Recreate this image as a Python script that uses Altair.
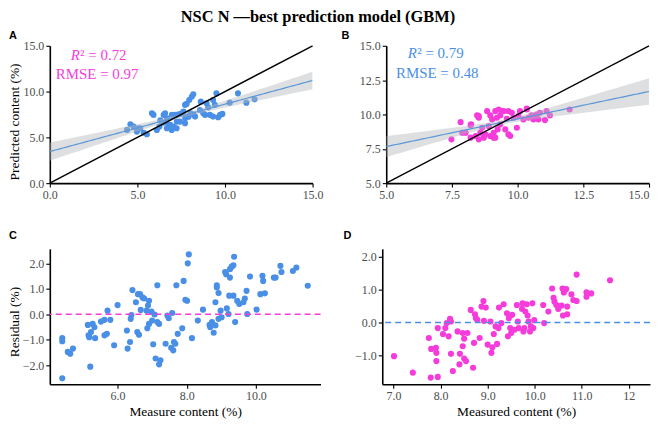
import altair as alt
import pandas as pd
import numpy as np

# ---------------- data ----------------
A_MEAS = [4.41,4.60,4.79,4.97,5.05,5.16,5.36,5.54,5.83,5.92,
          6.11,6.26,6.31,6.49,6.50,6.58,6.68,6.69,6.78,6.87,
          6.96,6.97,7.06,7.15,7.24,7.25,7.35,7.43,7.53,7.63,
          7.72,7.73,7.92,7.72,7.81,7.96,8.10,8.19,8.04,8.20,
          8.29,8.57,8.62,8.76,8.86,8.95,9.04,9.14,9.32,9.32,
          9.42,9.51,9.61,9.72,9.85,10.27,10.74,11.22,11.69]
A_PRED = [5.81,6.43,6.17,5.63,6.00,5.99,5.50,5.34,7.63,7.45,
          5.81,6.18,6.85,6.61,7.45,7.63,5.99,7.09,6.36,6.36,
          5.81,7.45,6.18,7.45,5.99,6.72,7.52,6.72,7.63,7.81,
          6.54,7.09,7.26,8.54,8.65,9.08,9.44,9.70,7.63,7.52,
          7.27,7.99,8.90,7.63,7.45,8.72,8.28,7.45,9.08,7.27,
          8.54,9.81,7.19,7.45,7.56,8.79,9.81,8.79,9.15]

B_MEAS = [7.48,7.83,7.89,8.02,8.23,8.21,8.40,8.46,8.52,8.52,
          8.58,8.65,8.71,8.77,8.84,8.90,8.96,9.03,9.09,9.09,
          9.15,9.21,9.24,9.28,9.34,9.34,9.40,9.53,9.59,9.65,
          9.65,9.72,9.78,9.84,9.97,10.03,10.09,10.22,10.35,10.41,
          10.53,10.60,10.72,10.79,10.85,11.04,11.10,11.23,11.98,
          8.21,8.52,9.47,10.35,8.96,9.15]
B_PRED = [8.19,9.44,8.67,8.67,9.28,8.31,8.43,9.93,9.76,8.19,
          8.67,9.03,8.31,8.55,10.24,9.15,9.93,9.64,8.67,8.31,
          10.24,9.76,8.91,10.36,9.93,9.28,10.24,8.91,9.69,10.24,
          8.55,8.43,10.12,9.76,9.03,9.88,10.24,9.64,10.36,9.76,
          9.93,9.64,10.00,9.64,10.12,9.59,10.24,9.93,10.36,
          9.22,9.88,10.24,10.43,8.43,8.31]

C_MEAS = [4.40,4.40,4.40,4.56,4.63,4.71,5.14,5.16,5.18,5.21,
          5.23,5.28,5.33,5.35,5.52,5.62,5.62,5.69,5.71,5.79,
          5.90,6.00,6.27,6.29,6.36,6.38,6.40,6.43,6.53,6.57,
          6.59,6.62,6.65,6.67,6.72,6.77,6.84,6.86,6.91,6.88,
          6.91,6.98,7.00,7.03,7.07,7.10,7.15,7.15,7.20,7.20,
          7.24,7.39,7.44,7.48,7.55,7.58,7.61,7.63,7.67,7.70,
          7.74,7.87,7.91,7.96,8.01,8.03,8.06,8.15,8.32,8.47,
          8.66,8.68,8.73,8.78,8.83,8.83,8.87,8.87,8.92,8.92,
          9.01,8.98,9.11,9.14,9.16,9.21,9.23,9.25,9.25,9.30,
          9.35,9.35,9.37,9.40,9.46,9.52,9.64,9.68,9.73,9.75,
          9.83,10.02,10.13,10.19,10.21,10.26,10.52,10.57,10.71,10.74,
          11.07,11.17,11.50]
C_RES = [-2.52,-0.94,-1.06,-1.48,-1.55,-1.35,-0.42,-0.83,-0.90,-2.06,
         -0.70,-0.38,-0.51,-0.94,-0.29,-0.22,-0.83,-0.77,0.14,-0.22,
         -1.22,0.36,-0.64,-1.35,-1.09,-0.18,-0.03,0.95,0.47,-0.70,
         0.79,-0.81,0.79,0.17,0.66,0.62,0.14,-0.55,0.53,0.34,
         -0.38,0.10,-0.25,-1.18,-0.01,-1.74,-0.31,1.14,-0.38,-1.97,
         -1.81,-1.16,-0.05,-0.16,-1.32,0.05,-1.42,-1.09,-1.16,1.14,
         -0.77,-0.55,1.31,0.57,0.53,2.00,2.35,-0.94,-0.25,0.18,
         -0.42,-0.51,-0.31,-0.73,0.47,-0.44,1.14,1.05,-0.18,0.83,
         -0.12,0.14,1.66,1.57,0.23,0.01,0.73,1.44,1.77,1.87,
         1.92,0.73,2.26,-0.31,0.53,0.40,0.47,0.62,0.92,0.01,
         1.48,0.18,0.79,1.51,1.31,0.82,1.44,1.44,1.90,1.66,
         1.70,1.83,1.12]

D_MEAS = [7.01,7.41,7.75,7.79,7.80,7.90,7.91,7.91,7.94,7.94,
          8.05,8.10,8.13,8.17,8.20,8.22,8.22,8.26,8.36,8.40,
          8.41,8.47,8.47,8.50,8.50,8.54,8.57,8.64,8.69,8.71,
          8.73,8.75,8.78,8.83,8.87,8.91,8.92,8.96,9.00,9.06,
          9.08,9.10,9.13,9.17,9.20,9.23,9.24,9.29,9.34,9.41,
          9.43,9.45,9.48,9.50,9.52,9.57,9.62,9.64,9.66,9.73,
          9.74,9.76,9.78,9.80,9.83,9.85,9.87,9.90,9.92,9.95,
          9.97,9.99,10.18,10.20,10.29,10.37,10.40,10.42,10.46,10.50,
          10.57,10.59,10.60,10.62,10.67,10.69,10.69,10.78,10.82,10.89,
          10.89,11.10,11.10,11.20,11.60]
D_RES = [-1.02,-1.52,-0.47,-1.67,-0.80,-0.77,-0.92,-1.17,-1.65,-0.17,
         -0.35,-0.17,-0.02,-0.42,0.11,0.03,-0.95,-1.47,-0.27,-1.27,
         -0.95,-0.32,-0.72,-0.49,-1.09,-1.17,-0.32,0.38,-1.37,-0.62,
         0.25,0.13,0.08,-0.47,0.48,0.65,0.05,0.45,-0.67,0.03,
         -0.92,-0.75,-0.35,-0.12,-0.65,-0.17,0.45,-0.02,0.55,0.28,
         -0.42,0.13,-0.17,-0.32,0.23,-0.22,0.53,0.03,-0.17,0.41,
         0.58,-0.27,-0.17,0.33,0.55,0.21,0.03,-0.27,-0.12,0.58,
         -0.17,0.07,0.53,-0.02,0.33,1.03,0.75,0.63,0.53,0.41,
         0.51,1.03,0.21,0.91,1.01,0.48,0.25,0.85,0.68,0.65,
         1.45,0.91,0.78,0.88,1.28]

A_DOMAIN = [0, 15]
A_TICKS = [0, 5, 10, 15]
B_DOMAIN = [5, 15]
B_TICKS = [5, 7.5, 10, 12.5, 15]
C_XDOMAIN = [4.04, 11.87]
C_YDOMAIN = [-2.75, 2.57]
C_XTICKS = [6, 8, 10]
C_YTICKS = [-2, -1, 0, 1, 2]
D_XDOMAIN = [6.76, 12.45]
D_YDOMAIN = [-1.87, 2.23]
D_XTICKS = [7, 8, 9, 10, 11, 12]
D_XLABELS = ["7.0", "8.0", "9.0", "10.0", "11.0", "12"]
D_YTICKS = [-1, 0, 1, 2]

TITLE = "NSC N \u2014best prediction model (GBM)"
A_STATS = ["0.72", "0.97"]
B_STATS = ["0.79", "0.48"]

BLUE = "#4a8fe6"
MAGENTA = "#f53cdb"
FITBLUE = "#5b97d8"
BANDGRAY = "#b3b8bc"
SERIF = "Liberation Serif"
SANS = "Liberation Sans"


def fit_band(x, y, lo, hi):
    x = np.asarray(x, float)
    y = np.asarray(y, float)
    n = len(x)
    b, a = np.polyfit(x, y, 1)
    res = y - (a + b * x)
    s = np.sqrt(np.sum(res ** 2) / (n - 2))
    xm = x.mean()
    sxx = np.sum((x - xm) ** 2)
    t = 1.96 + 2.5 / (n - 2)
    g = np.linspace(lo, hi, 80)
    f = a + b * g
    se = s * np.sqrt(1.0 / n + (g - xm) ** 2 / sxx)
    return pd.DataFrame({"x": g, "fit": f, "lo": f - t * se, "hi": f + t * se})


def make_y_axis(ticks, title, title_y):
    kw = dict(values=ticks, format=".1f", labelOverlap=False, labelFlush=False,
              tickCount=len(ticks))
    if title:
        return alt.Axis(title=title, titleX=-35, titleY=title_y,
                        titleBaseline="middle", titleAlign="center",
                        titleAngle=270, **kw)
    return alt.Axis(title=None, **kw)


def make_x_axis(ticks, title, labelexpr=None, last_right=False):
    kw = dict(values=ticks, labelOverlap=False, labelFlush=False,
              tickCount=len(ticks), title=title, titlePadding=3)
    if labelexpr:
        kw["labelExpr"] = labelexpr
    else:
        kw["format"] = ".1f"
    if last_right:
        kw["labelAlign"] = {"condition": {"test": f"datum.value >= {ticks[-1]}",
                                          "value": "right"},
                            "value": "center"}
    return alt.Axis(**kw)


def top_panel(mx, py, dom, ticks, ptcol, txtcol, letter, ytitle, stats,
              r2xy, rmsexy, w, h, labx, last_right=False):
    df = pd.DataFrame({"x": mx, "y": py})
    band = fit_band(mx, py, dom[0], dom[1])
    xsc = alt.Scale(domain=dom, nice=False, zero=False)
    ysc = alt.Scale(domain=dom, nice=False, zero=False)
    xax = make_x_axis(ticks, None, last_right=last_right)
    yax = make_y_axis(ticks, ytitle, 76)

    def X(f):
        return alt.X(f, scale=xsc, axis=xax)

    def Y(f):
        return alt.Y(f, scale=ysc, axis=yax)

    pts = alt.Chart(df).mark_circle(size=38, opacity=1, color=ptcol).encode(
        x=X("x:Q"), y=Y("y:Q"))
    bnd = alt.Chart(band).mark_area(color=BANDGRAY, opacity=0.45, clip=True).encode(
        x=X("x:Q"), y=Y("lo:Q"), y2="hi:Q")
    fit = alt.Chart(band).mark_line(color=FITBLUE, strokeWidth=1.2, clip=True).encode(
        x=X("x:Q"), y=Y("fit:Q"))
    ident = alt.Chart(pd.DataFrame({"x": dom, "y": dom})).mark_line(
        color="black", strokeWidth=1.4).encode(x=X("x:Q"), y=Y("y:Q"))
    r2 = pd.DataFrame({"x": [r2xy[0]], "y": [r2xy[1]], "t": ["R"]})
    r2b = pd.DataFrame({"x": [r2xy[0]], "y": [r2xy[1]], "t": ["\u00b2 = " + stats[0]]})
    rm = pd.DataFrame({"x": [rmsexy[0]], "y": [rmsexy[1]], "t": ["RMSE = " + stats[1]]})
    t1 = alt.Chart(r2).mark_text(font=SERIF, fontStyle="italic", fontSize=15,
                                 align="left", baseline="middle", color=txtcol).encode(
        x=X("x:Q"), y=Y("y:Q"), text="t:N")
    t2 = alt.Chart(r2b).mark_text(font=SERIF, fontSize=15, dx=9.5,
                                  align="left", baseline="middle", color=txtcol).encode(
        x=X("x:Q"), y=Y("y:Q"), text="t:N")
    t3 = alt.Chart(rm).mark_text(font=SERIF, fontSize=15,
                                 align="left", baseline="middle", color=txtcol).encode(
        x=X("x:Q"), y=Y("y:Q"), text="t:N")
    lab = alt.Chart(pd.DataFrame({"t": [letter]})).mark_text(
        font=SANS, fontWeight="bold", fontSize=11, align="left",
        baseline="alphabetic", color="black").encode(
        x=alt.value(labx), y=alt.value(-7), text="t:N")
    return alt.layer(pts, bnd, fit, ident, t1, t2, t3, lab).properties(width=w, height=h)


def resid_panel(mx, rs, xdom, ydom, xticks, yticks, ptcol, linecol, letter,
                ytitle, xtitle, w, h, labx, xlabelexpr=None):
    df = pd.DataFrame({"x": mx, "y": rs})
    xsc = alt.Scale(domain=xdom, nice=False, zero=False)
    ysc = alt.Scale(domain=ydom, nice=False, zero=False)
    xax = make_x_axis(xticks, xtitle, labelexpr=xlabelexpr)
    yax = make_y_axis(yticks, ytitle, 73)
    pts = alt.Chart(df).mark_circle(size=38, opacity=1, color=ptcol).encode(
        x=alt.X("x:Q", scale=xsc, axis=xax),
        y=alt.Y("y:Q", scale=ysc, axis=yax))
    zero = alt.Chart(pd.DataFrame({"y": [0]})).mark_rule(
        color=linecol, strokeDash=[6, 4], strokeWidth=1.5).encode(
        y=alt.Y("y:Q", scale=ysc, axis=yax))
    lab = alt.Chart(pd.DataFrame({"t": [letter]})).mark_text(
        font=SANS, fontWeight="bold", fontSize=11, align="left",
        baseline="alphabetic", color="black").encode(
        x=alt.value(labx), y=alt.value(-10), text="t:N")
    return alt.layer(pts, zero, lab).properties(width=w, height=h)


d_expr = " : ".join(
    [f"datum.value == {v} ? '{l}'" for v, l in zip(D_XTICKS[:-1], D_XLABELS[:-1])]
) + f" : '{D_XLABELS[-1]}'"

pA = top_panel(A_MEAS, A_PRED, A_DOMAIN, A_TICKS, BLUE, MAGENTA, "A",
               "Predicted content (%)", A_STATS, (1.19, 14.0), (0.34, 11.88),
               264, 138, -41)
pB = top_panel(B_MEAS, B_PRED, B_DOMAIN, B_TICKS, MAGENTA, BLUE, "B",
               None, B_STATS, (5.82, 14.5), (5.37, 13.04), 264, 138, -45,
               last_right=True)
pC = resid_panel(C_MEAS, C_RES, C_XDOMAIN, C_YDOMAIN, C_XTICKS, C_YTICKS,
                 BLUE, MAGENTA, "C", "Residual (%)", "Measure content (%)",
                 272, 136, -41)
pD = resid_panel(D_MEAS, D_RES, D_XDOMAIN, D_YDOMAIN, D_XTICKS, D_YTICKS,
                 MAGENTA, BLUE, "D", None, "Measured content (%)",
                 269, 136, -39, xlabelexpr=d_expr)

chart = alt.vconcat(
    alt.hconcat(pA, pB, spacing=18),
    alt.hconcat(pC, pD, spacing=22),
    spacing=30,
).properties(
    title=alt.TitleParams(TITLE, font=SERIF, fontSize=16.5, fontWeight="bold",
                          anchor="middle", offset=4, dx=-12, color="black"),
    padding={"left": 0, "top": 0, "right": 0, "bottom": 0},
).configure_view(stroke=None).configure_axis(
    grid=False,
    domainColor="black", domainWidth=1.6,
    tickColor="black", tickWidth=1.1, tickSize=4,
    labelColor="#4d4d4d", labelFont=SERIF, labelFontSize=12, labelPadding=2,
    titleFont=SERIF, titleFontSize=13.5, titleFontWeight="normal",
    titleColor="black", titlePadding=1,
)

chart.save("out.html", embed_options={"renderer": "svg", "actions": False})
